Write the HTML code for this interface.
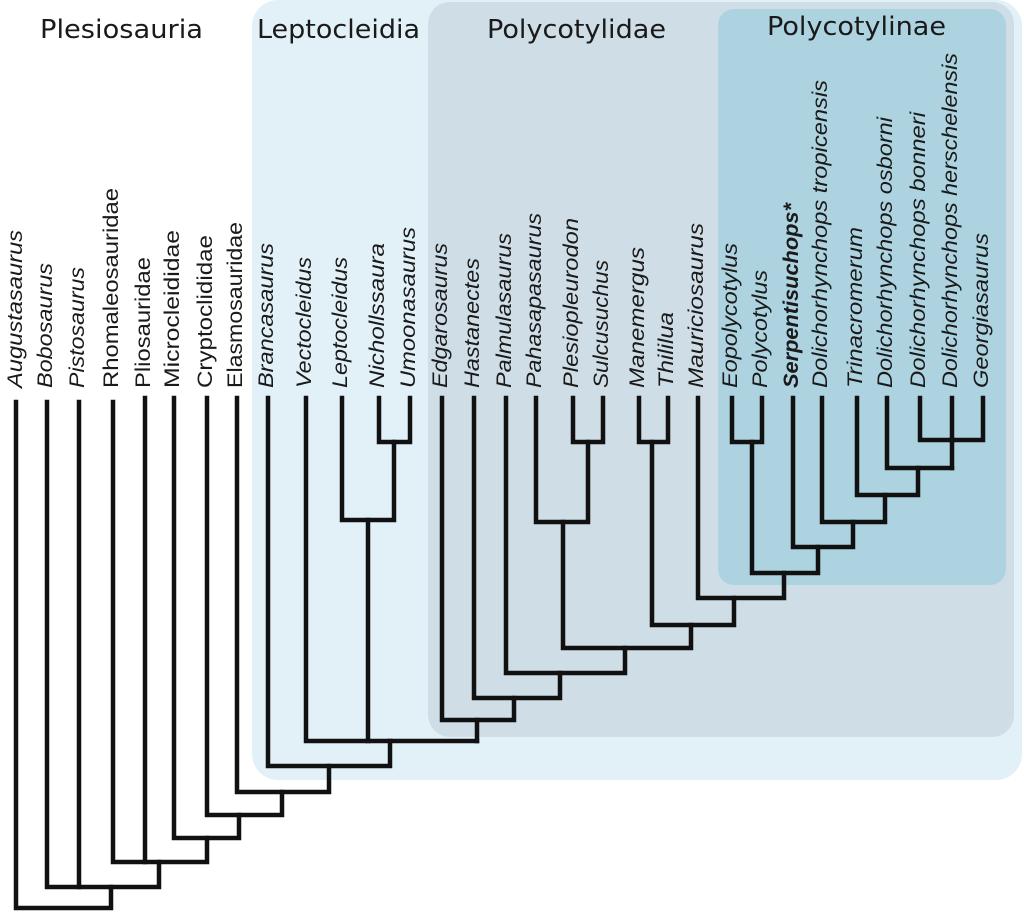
<!DOCTYPE html>
<html><head><meta charset="utf-8"><style>
html,body{margin:0;padding:0;background:#fff;}
svg{display:block;}
.h{font-family:"DejaVu Sans","Liberation Sans",sans-serif;font-size:26px;fill:#1a1a1a;}
.t{font-family:"Liberation Sans",sans-serif;font-size:21px;font-style:italic;fill:#1a1a1a;}
.n{font-style:normal;}
</style></head><body>
<svg width="1024" height="920" viewBox="0 0 1024 920" xmlns="http://www.w3.org/2000/svg">
<rect x="252" y="0" width="770" height="780" rx="26" fill="#e2f1f8"/>
<rect x="428" y="2" width="586" height="735" rx="22" fill="#cfdde6"/>
<rect x="718" y="9" width="288" height="576" rx="16" fill="#aed3e0"/>
<text class="h" x="40" y="38" textLength="163" lengthAdjust="spacingAndGlyphs">Plesiosauria</text>
<text class="h" x="257" y="38" textLength="163" lengthAdjust="spacingAndGlyphs">Leptocleidia</text>
<text class="h" x="487" y="38" textLength="179" lengthAdjust="spacingAndGlyphs">Polycotylidae</text>
<text class="h" x="767" y="35" textLength="179" lengthAdjust="spacingAndGlyphs">Polycotylinae</text>
<g class="t">
<text class="t" transform="translate(22,388) rotate(-90)" textLength="158" lengthAdjust="spacingAndGlyphs">Augustasaurus</text>
<text class="t" transform="translate(52,388) rotate(-90)" textLength="125" lengthAdjust="spacingAndGlyphs">Bobosaurus</text>
<text class="t" transform="translate(84,388) rotate(-90)" textLength="121" lengthAdjust="spacingAndGlyphs">Pistosaurus</text>
<text class="t n" transform="translate(118,388) rotate(-90)" textLength="200" lengthAdjust="spacingAndGlyphs">Rhomaleosauridae</text>
<text class="t n" transform="translate(150,388) rotate(-90)" textLength="131" lengthAdjust="spacingAndGlyphs">Pliosauridae</text>
<text class="t n" transform="translate(179,388) rotate(-90)" textLength="158" lengthAdjust="spacingAndGlyphs">Microcleididae</text>
<text class="t n" transform="translate(212,388) rotate(-90)" textLength="153" lengthAdjust="spacingAndGlyphs">Cryptoclididae</text>
<text class="t n" transform="translate(242,388) rotate(-90)" textLength="166" lengthAdjust="spacingAndGlyphs">Elasmosauridae</text>
<text class="t" transform="translate(273,388) rotate(-90)" textLength="145" lengthAdjust="spacingAndGlyphs">Brancasaurus</text>
<text class="t" transform="translate(311,388) rotate(-90)" textLength="131" lengthAdjust="spacingAndGlyphs">Vectocleidus</text>
<text class="t" transform="translate(347,388) rotate(-90)" textLength="131" lengthAdjust="spacingAndGlyphs">Leptocleidus</text>
<text class="t" transform="translate(384,388) rotate(-90)" textLength="145" lengthAdjust="spacingAndGlyphs">Nichollssaura</text>
<text class="t" transform="translate(415,388) rotate(-90)" textLength="161" lengthAdjust="spacingAndGlyphs">Umoonasaurus</text>
<text class="t" transform="translate(447,388) rotate(-90)" textLength="145" lengthAdjust="spacingAndGlyphs">Edgarosaurus</text>
<text class="t" transform="translate(479,388) rotate(-90)" textLength="130" lengthAdjust="spacingAndGlyphs">Hastanectes</text>
<text class="t" transform="translate(511,388) rotate(-90)" textLength="155" lengthAdjust="spacingAndGlyphs">Palmulasaurus</text>
<text class="t" transform="translate(541,388) rotate(-90)" textLength="175" lengthAdjust="spacingAndGlyphs">Pahasapasaurus</text>
<text class="t" transform="translate(578,388) rotate(-90)" textLength="170" lengthAdjust="spacingAndGlyphs">Plesiopleurodon</text>
<text class="t" transform="translate(608,388) rotate(-90)" textLength="128" lengthAdjust="spacingAndGlyphs">Sulcusuchus</text>
<text class="t" transform="translate(644,388) rotate(-90)" textLength="141" lengthAdjust="spacingAndGlyphs">Manemergus</text>
<text class="t" transform="translate(673,388) rotate(-90)" textLength="76" lengthAdjust="spacingAndGlyphs">Thililua</text>
<text class="t" transform="translate(703,388) rotate(-90)" textLength="165" lengthAdjust="spacingAndGlyphs">Mauriciosaurus</text>
<text class="t" transform="translate(737,388) rotate(-90)" textLength="145" lengthAdjust="spacingAndGlyphs">Eopolycotylus</text>
<text class="t" transform="translate(767,388) rotate(-90)" textLength="118" lengthAdjust="spacingAndGlyphs">Polycotylus</text>
<text class="t" font-weight="bold" transform="translate(798,388) rotate(-90)" textLength="185" lengthAdjust="spacingAndGlyphs">Serpentisuchops*</text>
<text class="t" transform="translate(827,388) rotate(-90)" textLength="308" lengthAdjust="spacingAndGlyphs">Dolichorhynchops tropicensis</text>
<text class="t" transform="translate(862,388) rotate(-90)" textLength="161" lengthAdjust="spacingAndGlyphs">Trinacromerum</text>
<text class="t" transform="translate(892,388) rotate(-90)" textLength="271" lengthAdjust="spacingAndGlyphs">Dolichorhynchops osborni</text>
<text class="t" transform="translate(925,388) rotate(-90)" textLength="276" lengthAdjust="spacingAndGlyphs">Dolichorhynchops bonneri</text>
<text class="t" transform="translate(957,388) rotate(-90)" textLength="335" lengthAdjust="spacingAndGlyphs">Dolichorhynchops herschelensis</text>
<text class="t" transform="translate(988,388) rotate(-90)" textLength="155" lengthAdjust="spacingAndGlyphs">Georgiasaurus</text>
</g>
<g fill="none" stroke="#111" stroke-width="4.5" stroke-linecap="square" stroke-linejoin="miter">
<path d="M379,398 V442 H410 V398"/>
<path d="M342,398 V520 H394 V442"/>
<path d="M368,520 V741"/>
<path d="M306,398 V741 H477"/>
<path d="M268,398 V766 H390 V741"/>
<path d="M237,398 V792 H329 V766"/>
<path d="M207,398 V815 H282 V792"/>
<path d="M174,398 V838 H239 V815"/>
<path d="M113,402 V862 H207 V838"/>
<path d="M145,398 V862"/>
<path d="M47,402 V887 H159 V862"/>
<path d="M79,402 V887"/>
<path d="M16,402 V908 H111 V887"/>
<path d="M573,398 V442 H603 V398"/>
<path d="M536,398 V522 H588 V442"/>
<path d="M639,398 V442 H668 V398"/>
<path d="M920,398 V440 H983 V398"/>
<path d="M952,398 V468"/>
<path d="M887,398 V468 H952"/>
<path d="M857,398 V495 H918 V468"/>
<path d="M822,398 V522 H885 V495"/>
<path d="M793,398 V547 H853 V522"/>
<path d="M732,398 V442 H762 V398"/>
<path d="M752,442 V573 H818 V547"/>
<path d="M698,398 V598 H784 V573"/>
<path d="M652,442 V625 H734 V598"/>
<path d="M563,522 V648 H691 V625"/>
<path d="M506,398 V673 H625 V648"/>
<path d="M474,398 V698 H560 V673"/>
<path d="M442,398 V720 H514 V698"/>
<path d="M477,720 V741"/>
</g>
</svg>
</body></html>
